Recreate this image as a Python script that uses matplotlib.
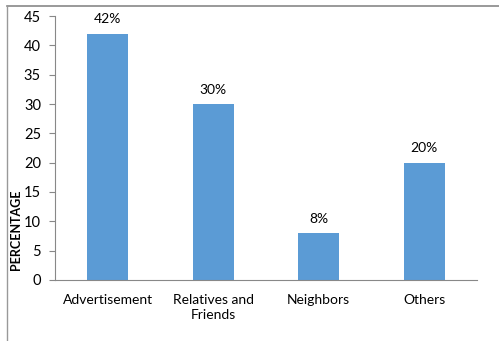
import matplotlib
matplotlib.use("Agg")
import matplotlib.pyplot as plt
from matplotlib.lines import Line2D

categories = ["Advertisement", "Relatives and\nFriends", "Neighbors", "Others"]
values = [42, 30, 8, 20]
labels = ["42%", "30%", "8%", "20%"]
yticks = [0, 5, 10, 15, 20, 25, 30, 35, 40, 45]

plt.rcParams['font.family'] = ['Lato', 'DejaVu Sans']

fig = plt.figure(figsize=(4.99, 3.41), dpi=100)
ax = fig.add_axes([0.110, 0.179, 0.846, 0.774])

x = list(range(len(categories)))
ax.bar(x, values, width=0.39, color='#5B9BD5')
for xi, v, lab in zip(x, values, labels):
    ax.annotate(lab, (xi, v), xytext=(0, 6), textcoords='offset points',
                ha='center', va='bottom', fontsize=10, color='black')

ax.set_xlim(-0.5, 3.5)
ax.set_ylim(0, 45)
ax.set_yticks(yticks)
ax.set_xticks(x)
ax.set_xticklabels(categories, fontsize=10, linespacing=1.35)
ax.tick_params(axis='x', length=0, pad=10)
ax.tick_params(axis='y', length=4, color='#888888', labelsize=10.5, pad=6)
for s in ['top', 'right']:
    ax.spines[s].set_visible(False)
for s in ['left', 'bottom']:
    ax.spines[s].set_color('#888888')
    ax.spines[s].set_linewidth(0.8)

fig.text(0.032, 0.325, "PERCENTAGE", rotation=90, fontsize=9, fontweight='bold',
         ha='center', va='center')

fig.add_artist(Line2D([7/499, 1.0], [1 - 6/341, 1 - 6/341], color='#888888', lw=1.2,
                      transform=fig.transFigure))
fig.add_artist(Line2D([7/499, 7/499], [1 - 6/341, 0], color='#999999', lw=1.0,
                      transform=fig.transFigure))

fig.savefig("out.png", dpi=100)
